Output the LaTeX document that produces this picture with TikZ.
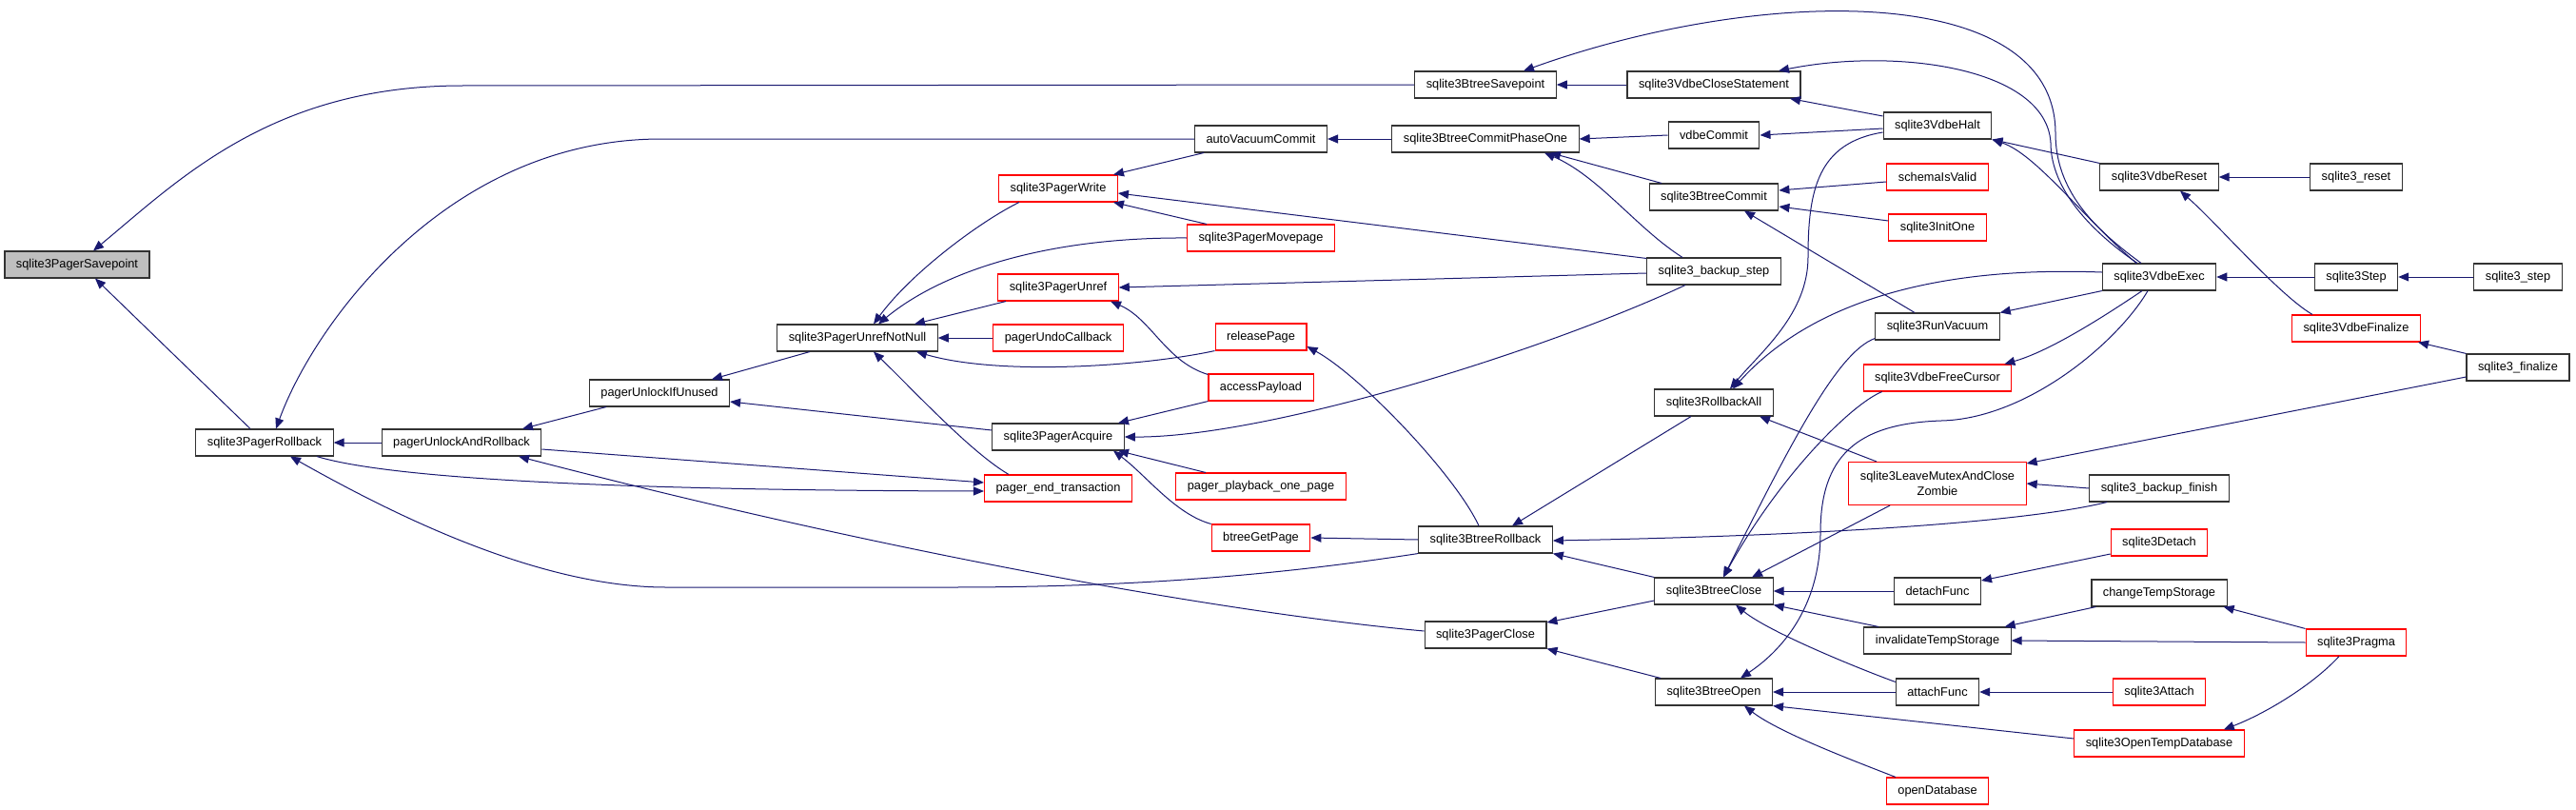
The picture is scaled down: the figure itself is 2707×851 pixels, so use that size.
\documentclass[tikz,border=0pt]{standalone}
\usepackage{fontspec}
\setmainfont{Liberation Sans}
\usepackage{xcolor}
\usepackage{tikz}
\usetikzlibrary{arrows.meta,calc}
\definecolor{edgeblue}{HTML}{191970}
\definecolor{rootgray}{HTML}{BFBFBF}
\tikzset{
  call/.style={-{Triangle[length=11pt,width=9pt]}, line width=1pt, draw=edgeblue},
  every node/.style={anchor=center}
}

\begin{document}
\begin{tikzpicture}[
  x=1pt, y=-1pt,
  font=\fontsize{12.8pt}{16pt}\selectfont,
  fn/.style={draw=black!80, line width=1.1pt, fill=white, inner xsep=12pt, inner ysep=2pt, minimum height=28pt},
  trunc/.style={fn, draw=red},
  focus/.style={fn, fill=rootgray}
]
\useasboundingbox (0,0) rectangle (2707,851);

% column 1-4
\node[focus] (savepoint) at (81,278) {sqlite3PagerSavepoint};
\node[fn] (rollback) at (278,465) {sqlite3PagerRollback};
\node[fn] (unlockrb) at (485,465) {pagerUnlockAndRollback};
\node[fn] (unlockunused) at (693,413) {pagerUnlockIfUnused};
\node[fn] (unrefnn) at (901,355) {sqlite3PagerUnrefNotNull};

% column 5
\node[trunc] (pwrite) at (1112,198) {sqlite3PagerWrite};
\node[trunc] (punref) at (1112,302) {sqlite3PagerUnref};
\node[trunc] (undocb) at (1112,355) {pagerUndoCallback};
\node[fn] (acquire) at (1112,459) {sqlite3PagerAcquire};
\node[trunc] (endtx) at (1112,513) {pager\_end\_transaction};

% column 6
\node[fn] (autovac) at (1325,146) {autoVacuumCommit};
\node[trunc] (movepage) at (1325,250) {sqlite3PagerMovepage};
\node[trunc] (relpage) at (1325,354) {releasePage};
\node[trunc] (payload) at (1325,407) {accessPayload};
\node[trunc] (playback) at (1325,511) {pager\_playback\_one\_page};
\node[trunc] (getpage) at (1325,565) {btreeGetPage};

% column 7
\node[fn] (btsave) at (1561,89) {sqlite3BtreeSavepoint};
\node[fn] (commit1) at (1561,146) {sqlite3BtreeCommitPhaseOne};
\node[fn] (btrollback) at (1561,567) {sqlite3BtreeRollback};
\node[fn] (pclose) at (1561,667) {sqlite3PagerClose};

% column 8
\node[fn] (closestmt) at (1801,89) {sqlite3VdbeCloseStatement};
\node[fn] (vdbecommit) at (1801,142) {vdbeCommit};
\node[fn] (btcommit) at (1801,207) {sqlite3BtreeCommit};
\node[fn] (bkstep) at (1801,285) {sqlite3\_backup\_step};
\node[fn] (rollall) at (1801,423) {sqlite3RollbackAll};
\node[fn] (btclose) at (1801,621) {sqlite3BtreeClose};
\node[fn] (btopen) at (1801,727) {sqlite3BtreeOpen};

% column 9
\node[fn] (halt) at (2036,132) {sqlite3VdbeHalt};
\node[trunc] (schemaok) at (2036,186) {schemaIsValid};
\node[trunc] (initone) at (2036,239) {sqlite3InitOne};
\node[fn] (runvac) at (2036,343) {sqlite3RunVacuum};
\node[trunc] (freecur) at (2036,397) {sqlite3VdbeFreeCursor};
\node[trunc, align=center, minimum height=45pt] (zombie) at (2036,508) {sqlite3LeaveMutexAndClose\\Zombie};
\node[fn] (detachf) at (2036,621) {detachFunc};
\node[fn] (invtemp) at (2036,673) {invalidateTempStorage};
\node[fn] (attachf) at (2036,727) {attachFunc};
\node[trunc] (opendb) at (2036,831) {openDatabase};

% column 10
\node[fn] (vreset) at (2269,186) {sqlite3VdbeReset};
\node[fn] (vexec) at (2269,291) {sqlite3VdbeExec};
\node[fn] (bkfinish) at (2269,513) {sqlite3\_backup\_finish};
\node[trunc] (detach) at (2269,570) {sqlite3Detach};
\node[fn] (chtemp) at (2269,623) {changeTempStorage};
\node[trunc] (attach) at (2269,727) {sqlite3Attach};
\node[trunc] (opentemp) at (2269,781) {sqlite3OpenTempDatabase};

% column 11-12
\node[fn] (reset) at (2476,186) {sqlite3\_reset};
\node[fn] (vstep) at (2476,291) {sqlite3Step};
\node[trunc] (vfinal) at (2476,345) {sqlite3VdbeFinalize};
\node[trunc] (pragma) at (2476,675) {sqlite3Pragma};
\node[fn] (step) at (2646,291) {sqlite3\_step};
\node[fn] (finalize) at (2646,386) {sqlite3\_finalize};

% calls into the pager
\draw[call] (btsave.west) -- (486,90) .. controls (286,90) and (188,189) .. ([xshift=17pt]savepoint.north);
\draw[call] ([xshift=-15pt]rollback.north) -- ([xshift=19pt]savepoint.south);
\draw[call] (autovac.west) -- (695,146) .. controls (470,146) and (330,341) .. ([xshift=12pt]rollback.north);
\draw[call] (unlockrb.west) -- (rollback.east);
\draw[call] (btrollback.south west) .. controls (1350,603) and (1200,617) .. (1000,617) -- (700,617) .. controls (560,617) and (400,533) .. ([xshift=27pt]rollback.south);
\draw[call] ([xshift=55pt]rollback.south) .. controls (400,500) and (600,515) .. ([yshift=-3pt]endtx.west);
\draw[call] ([yshift=-7pt]unlockrb.east) -- ([yshift=6pt]endtx.west);
\draw[call] ([xshift=-56pt]unlockunused.south) -- ([xshift=64pt]unlockrb.north);
\draw[call] ([yshift=4pt]pclose.west) .. controls (1300,645) and (950,585) .. ([xshift=60pt]unlockrb.south);
\draw[call] ([xshift=-50pt]unrefnn.south) -- ([xshift=55pt]unlockunused.north);
\draw[call] ([yshift=7pt]acquire.west) -- ([yshift=-9pt]unlockunused.east);
\draw[call] ([xshift=-41pt]pwrite.south) .. controls (1031,232) and (958,286) .. ([xshift=17pt]unrefnn.north);
\draw[call] (movepage.west) .. controls (1100,249) and (990,285) .. ([xshift=22pt]unrefnn.north);
\draw[call] ([xshift=-55pt]punref.south) -- ([xshift=60pt]unrefnn.north);
\draw[call] (undocb.west) -- (unrefnn.east);
\draw[call] (relpage.south west) .. controls (1200,385) and (1050,395) .. ([xshift=62pt]unrefnn.south);
\draw[call] ([xshift=-52pt]endtx.north) .. controls (1020,475) and (960,410) .. ([xshift=17pt]unrefnn.south);
\draw[call] ([xshift=-60pt]autovac.south) -- ([xshift=58pt]pwrite.north);
\draw[call] ([yshift=-1pt]bkstep.north west) -- ([yshift=-5pt]pwrite.east);
\draw[call] ([xshift=-57pt]movepage.north) -- ([xshift=58pt]pwrite.south);
\draw[call] ([yshift=-2pt]bkstep.west) -- (punref.east);
\draw[call] ([yshift=-1pt]payload.north west) .. controls (1225,380) and (1210,335) .. ([xshift=55pt]punref.south);
\draw[call] ([xshift=-7pt]btrollback.north) .. controls (1530,500) and (1430,395) .. ([yshift=-10pt]relpage.east);
\draw[call] (payload.south west) -- ([xshift=63pt]acquire.north);
\draw[call] ([xshift=-30pt]bkstep.south) .. controls (1620,370) and (1330,460) .. (acquire.east);
\draw[call] ([xshift=-58pt]playback.north) -- ([xshift=63pt]acquire.south);
\draw[call] (getpage.north west) .. controls (1235,540) and (1205,500) .. ([xshift=58pt]acquire.south);
\draw[call] (btrollback.west) -- (getpage.east);

% btree and vdbe
\draw[call] (commit1.west) -- (autovac.east);
\draw[call] (closestmt.west) -- (btsave.east);
\draw[call] ([xshift=-19pt]vexec.north) .. controls (2200,240) and (2160,200) .. (2160,140) .. controls (2160,-20) and (1850,-15) .. ([xshift=40pt]btsave.north);
\draw[call] ([yshift=10pt]halt.west) -- ([xshift=80pt]closestmt.south);
\draw[call] ([xshift=-23pt]vexec.north) .. controls (2200,245) and (2155,200) .. (2155,150) .. controls (2150,70) and (1990,50) .. ([xshift=68pt]closestmt.north);
\draw[call] (vdbecommit.west) -- (commit1.east);
\draw[call] ([xshift=-55pt]btcommit.north) -- ([xshift=68pt]commit1.south);
\draw[call] ([xshift=-33pt]bkstep.north) .. controls (1720,240) and (1680,185) .. ([xshift=62pt]commit1.south);
\draw[call] ([yshift=-3pt]halt.west) -- (vdbecommit.east);
\draw[call] ([yshift=-5pt]schemaok.west) -- ([yshift=7pt]btcommit.east);
\draw[call] ([yshift=7pt]initone.west) -- ([yshift=-10pt]btcommit.east);
\draw[call] ([xshift=-24pt]runvac.north) -- ([xshift=32pt]btcommit.south);
\draw[call] ([yshift=-7pt]halt.west) .. controls (1910,150) and (1900,200) .. (1900,270) .. controls (1900,330) and (1850,370) .. ([xshift=17pt]rollall.north);
\draw[call] ([yshift=5pt]vexec.west) .. controls (2050,280) and (1910,310) .. ([xshift=20pt]rollall.north);
\draw[call] (vreset.north west) -- (halt.south east);
\draw[call] ([xshift=-24pt]vexec.north) .. controls (2190,230) and (2140,162) .. (halt.south east);
\draw[call] (reset.west) -- (vreset.east);
\draw[call] ([xshift=-46pt]vfinal.north) .. controls (2395,310) and (2330,235) .. ([xshift=22pt]vreset.south);
\draw[call] (vstep.west) -- (vexec.east);
\draw[call] (step.west) -- (vstep.east);
\draw[call] (finalize.north west) -- ([xshift=-3pt]vfinal.south east);
\draw[call] ([yshift=-10pt]finalize.west) -- ([yshift=-2pt]zombie.north east);
\draw[call] (vexec.south west) -- (runvac.north east);
\draw[call] ([xshift=-18pt]vexec.south) .. controls (2200,340) and (2150,370) .. ([xshift=-8pt]freecur.north east);
\draw[call] ([xshift=-12pt]vexec.south) .. controls (2225,360) and (2130,440) .. (2040,442) .. controls (1950,445) and (1913,480) .. (1913,560) .. controls (1913,640) and (1870,685) .. ([xshift=28pt]btopen.north);
\draw[call] ([yshift=2pt]runvac.south west) .. controls (1930,370) and (1880,470) .. ([xshift=10pt]btclose.north);
\draw[call] ([xshift=20pt]freecur.south west) .. controls (1945,425) and (1870,500) .. ([xshift=10pt]btclose.north);
\draw[call] ([xshift=-24pt]rollall.south) -- ([xshift=28pt]btrollback.north);
\draw[call] (btclose.north west) -- (btrollback.south east);
\draw[call] ([xshift=-55pt]bkfinish.south) .. controls (2140,546) and (1950,562) .. ([yshift=-1pt]btrollback.east);
\draw[call] ([xshift=-64pt]zombie.north) -- ([xshift=48pt]rollall.south);
\draw[call] (bkfinish.west) -- (zombie.east);
\draw[call] ([xshift=-50pt]zombie.south) -- ([xshift=40pt]btclose.north);
\draw[call] (detachf.west) -- (btclose.east);
\draw[call] ([xshift=-62pt]invtemp.north) -- (btclose.south east);
\draw[call] ([yshift=-4pt]attachf.north west) .. controls (1960,705) and (1860,665) .. ([xshift=23pt]btclose.south);
\draw[call] ([yshift=-10pt]btclose.west) -- ([yshift=13pt]pclose.east);
\draw[call] ([xshift=-56pt]btopen.north) -- (pclose.south east);
\draw[call] (attachf.west) -- (btopen.east);
\draw[call] ([yshift=5pt]opentemp.west) -- (btopen.south east);
\draw[call] ([xshift=-44pt]opendb.north) .. controls (1950,800) and (1870,770) .. ([xshift=32pt]btopen.south);
\draw[call] ([yshift=-12pt]detach.west) -- ([yshift=11pt]detachf.east);
\draw[call] ([xshift=5pt]chtemp.south west) -- ([xshift=-7pt]invtemp.north east);
\draw[call] (pragma.west) -- (invtemp.east);
\draw[call] (pragma.north west) -- ([xshift=-4pt]chtemp.south east);
\draw[call] (attach.west) -- (attachf.east);
\draw[call] ([xshift=-18pt]pragma.south) .. controls (2430,720) and (2380,750) .. ([xshift=-22pt]opentemp.north east);
\end{tikzpicture}
\end{document}
